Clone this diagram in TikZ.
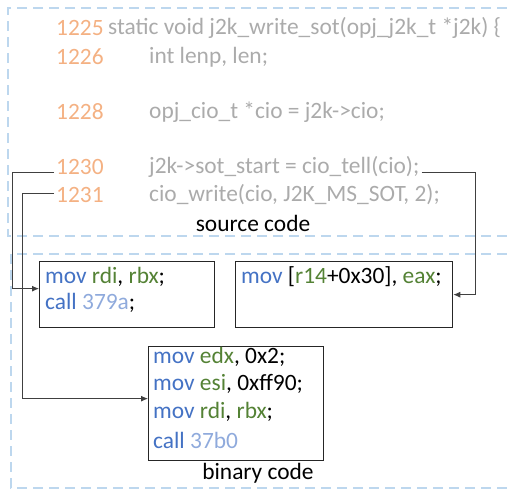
\documentclass[tikz,border=0pt]{standalone}
\usepackage{fontspec}
\setmainfont{Carlito}
\usetikzlibrary{arrows.meta}
\definecolor{lnum}{HTML}{F4B183}
\definecolor{srcg}{HTML}{ABABAB}
\definecolor{kwb}{HTML}{4472C4}
\definecolor{regg}{HTML}{548235}
\definecolor{addr}{HTML}{8FAADC}
\definecolor{dashb}{HTML}{BDD7EE}
\definecolor{conng}{HTML}{404040}
\tikzset{
  txt/.style={inner sep=0pt, anchor=west, font=\fontsize{23.4}{27}\selectfont},
  lnumtxt/.style={txt, text=lnum, inner xsep=2pt},
  srctxt/.style={txt, text=srcg},
  asmtxt/.style={txt, text=black},
  codebox/.style={draw=black!85, line width=1.3pt, inner sep=0pt, anchor=north west},
  region/.style={draw=dashb, line width=1.5pt, dash pattern=on 10pt off 6pt},
  conn/.style={draw=conng, line width=0.9pt, -{Latex[length=7pt,width=6pt]}},
  caption/.style={inner sep=0pt, font=\fontsize{23.4}{27}\selectfont, text=black}
}
\begin{document}
\begin{tikzpicture}[x=1pt,y=-1pt]
\useasboundingbox (0,0) rectangle (507,490);
% dashed regions
\draw[region] (507,8) -- (8,8) -- (8,236) -- (507,236);
\draw[region] (507,254) -- (11,254) -- (11,488) -- (507,488);
% source code
\node[lnumtxt] (n1225) at (54,28) {1225};
\node[srctxt] (c1225) at (108,28) {static void j2k\_write\_sot(opj\_j2k\_t *j2k) \{};
\node[lnumtxt] (n1226) at (54,57) {1226};
\node[srctxt] (c1226) at (149,57) {int lenp, len;};
\node[lnumtxt] (n1228) at (54,112) {1228};
\node[srctxt] (c1228) at (149,112) {opj\_cio\_t *cio = j2k->cio;};
\node[lnumtxt] (n1230) at (54,167) {1230};
\node[srctxt, inner xsep=2pt] (c1230) at (147,167) {j2k->sot\_start = cio\_tell(cio);};
\node[lnumtxt] (n1231) at (54,195) {1231};
\node[srctxt] (c1231) at (149,195) {cio\_write(cio, J2K\_MS\_SOT, 2);};
\node[caption] (srccap) at (253,223) {source code};
% binary boxes
\node[codebox, minimum width=175pt, minimum height=66pt] (b1) at (39,261) {};
\node[asmtxt] (b1l1) at (45,277) {\textcolor{kwb}{mov} \textcolor{regg}{rdi}, \textcolor{regg}{rbx};};
\node[asmtxt] (b1l2) at (45,303) {\textcolor{kwb}{call} \textcolor{addr}{379a};};
\node[codebox, minimum width=217pt, minimum height=66pt] (b2) at (235,261) {};
\node[asmtxt] (b2l1) at (241,277) {\textcolor{kwb}{mov} [\textcolor{regg}{r14}+0x30], \textcolor{regg}{eax};};
\node[codebox, minimum width=175pt, minimum height=114pt] (b3) at (148,346) {};
\node[asmtxt] (b3l1) at (153,357) {\textcolor{kwb}{mov} \textcolor{regg}{edx}, 0x2;};
\node[asmtxt] (b3l2) at (153,384) {\textcolor{kwb}{mov} \textcolor{regg}{esi}, 0xff90;};
\node[asmtxt] (b3l3) at (153,412) {\textcolor{kwb}{mov} \textcolor{regg}{rdi}, \textcolor{regg}{rbx};};
\node[asmtxt] (b3l4) at (153,440) {\textcolor{kwb}{call} \textcolor{addr}{37b0}};
\node[caption] (bincap) at (258,473) {binary code};
% connectors
\coordinate (k1) at (12,172);
\coordinate (k2) at (22,193);
\coordinate (k3) at (475,172);
\draw[conn] ([yshift=-5pt]n1230.west) -- (k1) |- ([yshift=6pt]b1.west);
\draw[conn] ([yshift=2pt]n1231.west) -- (k2) |- ([yshift=5pt]b3.west);
\draw[conn] ([yshift=-5pt]c1230.east) -- (k3) |- (b2.east);
\end{tikzpicture}
\end{document}
